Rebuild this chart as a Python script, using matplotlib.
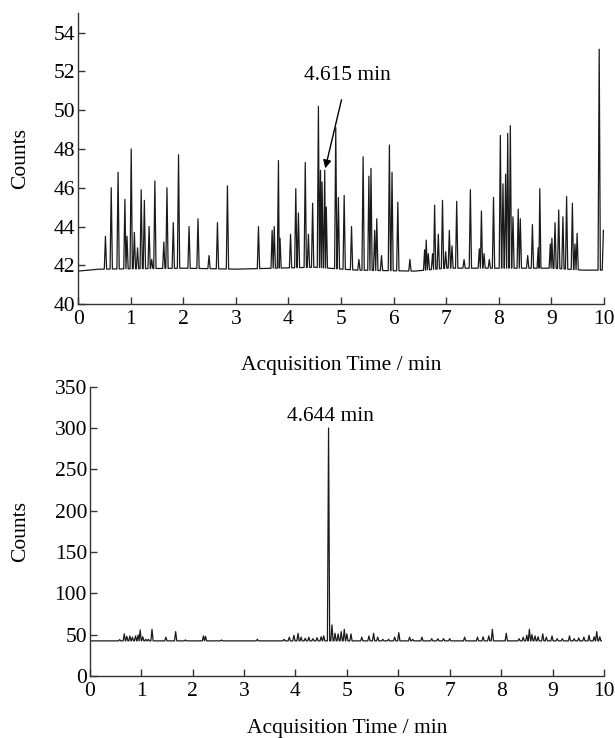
import numpy as np
import matplotlib
matplotlib.use("Agg")
import matplotlib.pyplot as plt

plt.rcParams['font.family'] = ['Liberation Serif', 'DejaVu Serif']

# top chromatogram: peak apex times (min) and heights (counts)
top_times = [0.52, 0.63, 0.76, 0.89, 0.93, 1.01, 1.07, 1.13, 1.20, 1.26, 1.35, 1.40, 1.46,
             1.63, 1.69, 1.81, 1.91, 2.11, 2.28, 2.49, 2.65, 2.84, 3.43, 3.69, 3.73, 3.81,
             3.84, 4.04, 4.14, 4.19, 4.32, 4.38, 4.46, 4.57, 4.61, 4.64, 4.69, 4.72, 4.90,
             4.95, 5.06, 5.20, 5.34, 5.42, 5.53, 5.57, 5.64, 5.68, 5.77, 5.92, 5.97, 6.08,
             6.31, 6.59, 6.62, 6.66, 6.74, 6.78, 6.85, 6.93, 6.99, 7.06, 7.11, 7.20, 7.34,
             7.46, 7.63, 7.67, 7.72, 7.82, 7.90, 8.03, 8.08, 8.13, 8.17, 8.22, 8.27, 8.37,
             8.41, 8.55, 8.64, 8.75, 8.78, 8.98, 9.01, 9.07, 9.14, 9.22, 9.29, 9.40, 9.45,
             9.49, 9.91, 9.99]
top_heights = [43.5, 46.0, 46.8, 45.4, 43.5, 48.0, 43.7, 42.9, 45.9, 45.35, 44.0, 42.3, 46.35,
               43.2, 46.0, 44.2, 47.7, 44.0, 44.4, 42.5, 44.2, 46.1, 44.0, 43.8, 44.0, 47.4,
               43.4, 43.6, 45.95, 44.7, 47.3, 43.6, 45.2, 50.2, 46.9, 46.3, 46.9, 45.0, 49.1,
               45.5, 45.6, 44.0, 42.3, 47.6, 46.6, 47.0, 43.8, 44.4, 42.5, 48.2, 46.8, 45.25,
               42.3, 42.8, 43.3, 42.6, 42.6, 45.1, 43.6, 45.35, 42.7, 43.8, 43.0, 45.3, 42.3,
               45.9, 42.85, 44.8, 42.6, 42.3, 45.5, 48.7, 46.2, 46.7, 48.8, 49.2, 44.5, 44.9,
               44.4, 42.5, 44.1, 42.9, 45.95, 43.1, 43.4, 44.2, 44.85, 44.5, 45.55, 45.2, 43.1,
               43.65, 53.15, 43.8]
top_base_t = [0.0, 0.4, 2.0, 3.0, 4.5, 5.3, 6.4, 7.0, 9.0, 9.6, 10.0]
top_base_v = [41.7, 41.8, 41.85, 41.8, 41.9, 41.75, 41.7, 41.85, 41.85, 41.75, 41.75]

# bottom chromatogram
bot_times = [0.58, 0.67, 0.72, 0.78, 0.83, 0.89, 0.94, 0.98, 1.03, 1.09, 1.14, 1.21, 1.48,
             1.67, 1.86, 2.21, 2.25, 2.56, 3.26, 3.78, 3.88, 3.97, 4.05, 4.11, 4.19, 4.26,
             4.34, 4.42, 4.50, 4.55, 4.644, 4.71, 4.77, 4.83, 4.89, 4.95, 5.00, 5.08, 5.29,
             5.43, 5.52, 5.60, 5.70, 5.81, 5.93, 6.01, 6.22, 6.28, 6.46, 6.65, 6.77, 6.88,
             7.00, 7.29, 7.54, 7.65, 7.76, 7.83, 8.10, 8.35, 8.43, 8.50, 8.55, 8.60, 8.66,
             8.72, 8.81, 8.88, 8.99, 9.09, 9.19, 9.33, 9.42, 9.51, 9.61, 9.71, 9.81, 9.86,
             9.92]
bot_heights = [44, 51, 48, 48.5, 47, 48.5, 49.7, 55.7, 47.5, 44.4, 44.4, 56.5, 47,
               53.7, 43.6, 48.5, 48, 43.6, 44.4, 44.4, 47, 49.3, 51.7, 47, 45.6, 47,
               45.2, 46.4, 47.5, 48.5, 300, 61.8, 51.7, 51, 53.7, 56.5, 51, 51, 47,
               48.5, 51.7, 47, 44.4, 44.4, 47, 52.5, 47, 44.4, 47, 45.2, 45.2, 45.2,
               45.2, 47, 47, 47.5, 48.5, 56.5, 51.7, 45.2, 47, 49.3, 56.5, 50, 48.5,
               47.5, 51, 47, 48.5, 45.2, 45.2, 48.5, 45.2, 46, 47, 49.3, 47.5, 53.7,
               47.5]
bot_base_t = [0.0, 10.0]
bot_base_v = [42.5, 42.5]


def trace(times, heights, base_t, base_v, w, t_end):
    # polyline: baseline -> foot -> apex -> foot ...
    xs, ys = [base_t[0]], [base_v[0]]
    prev = None
    for t, h in zip(times, heights):
        if prev is None or t - prev > 2 * w:
            if prev is not None:
                xs.append(prev + w)
                ys.append(np.interp(prev + w, base_t, base_v))
            lo = xs[-1]
            for bt, bv in zip(base_t, base_v):
                if lo < bt < t - w:
                    xs.append(bt)
                    ys.append(bv)
            xs.append(t - w)
            ys.append(np.interp(t - w, base_t, base_v))
        else:
            m = (prev + t) / 2
            xs.append(m)
            ys.append(np.interp(m, base_t, base_v))
        xs.append(t)
        ys.append(h)
        prev = t
    if prev + w < t_end:
        xs.append(prev + w)
        ys.append(np.interp(prev + w, base_t, base_v))
        xs.append(t_end)
        ys.append(np.interp(t_end, base_t, base_v))
    return xs, ys


fig = plt.figure(figsize=(6.15, 7.38), dpi=100)

ax1 = fig.add_axes([0.127, 0.588, 0.855, 0.394])
x, y = trace(top_times, top_heights, top_base_t, top_base_v, 0.022, 10.0)
ax1.plot(x, y, color='#1a1a1a', lw=0.9)
ax1.set_xlim(0, 10)
ax1.set_ylim(40, 55)
ax1.set_xticks(range(0, 11))
ax1.set_yticks(range(40, 55, 2))
ax1.set_xlabel('Acquisition Time / min', fontsize=15.5)
ax1.set_ylabel('Counts', fontsize=15.5)
ax1.xaxis.set_label_coords(0.5, -0.18)
ax1.yaxis.set_label_coords(-0.092, 0.5)
ax1.annotate('4.615 min', xy=(4.70, 47.0), xytext=(5.12, 51.8),
             ha='center', va='center', fontsize=15.5,
             arrowprops=dict(arrowstyle='-|>', color='black', lw=1.0,
                             mutation_scale=12, shrinkA=9, shrinkB=0))

ax2 = fig.add_axes([0.146, 0.084, 0.836, 0.392])
x, y = trace(bot_times, bot_heights, bot_base_t, bot_base_v, 0.022, 9.95)
ax2.plot(x, y, color='#1a1a1a', lw=0.9)
ax2.set_xlim(0, 10)
ax2.set_ylim(0, 350)
ax2.set_xticks(range(0, 11))
ax2.set_yticks(range(0, 351, 50))
ax2.set_xlabel('Acquisition Time / min', fontsize=15.5)
ax2.set_ylabel('Counts', fontsize=15.5)
ax2.xaxis.set_label_coords(0.5, -0.15)
ax2.yaxis.set_label_coords(-0.117, 0.5)
ax2.text(4.69, 314, '4.644 min', ha='center', va='center', fontsize=15.5)

for ax in (ax1, ax2):
    ax.spines['top'].set_visible(False)
    ax.spines['right'].set_visible(False)
    for s in ('left', 'bottom'):
        ax.spines[s].set_linewidth(1.0)
        ax.spines[s].set_color('#333333')
    ax.tick_params(direction='in', length=5, width=1.0, labelsize=15.5,
                   color='#333333')
    ax.tick_params(axis='y', pad=2)
    ax.tick_params(axis='x', pad=4)

fig.savefig('out.png', dpi=100)
